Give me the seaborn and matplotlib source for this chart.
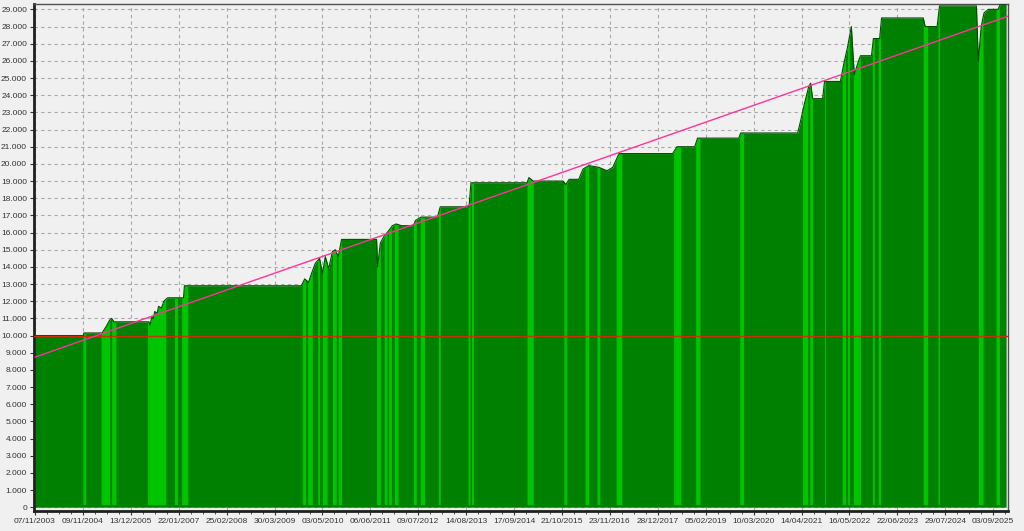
import numpy as np
import pandas as pd
import matplotlib
matplotlib.use("Agg")
import matplotlib.pyplot as plt
import seaborn as sns
from matplotlib.ticker import FuncFormatter, MultipleLocator

# Equity curve (x in tick units: one unit per date label)
eq_x = [0.0, 1.01, 1.02, 1.40, 1.48, 1.56, 1.60, 1.65, 2.38, 2.40, 2.44, 2.47, 2.50,
        2.55, 2.58, 2.64, 2.69, 2.77, 3.10, 3.12, 5.56, 5.63, 5.71, 5.77, 5.85, 5.94,
        6.00, 6.06, 6.13, 6.21, 6.27, 6.33, 6.40, 7.13, 7.15, 7.21, 7.29, 7.38, 7.46,
        7.54, 7.65, 7.90, 7.94, 8.06, 8.40, 8.46, 9.06, 9.10, 10.27, 10.31, 10.40,
        11.02, 11.08, 11.15, 11.35, 11.44, 11.56, 11.77, 11.94, 12.06, 12.19, 13.31,
        13.40, 13.77, 13.83, 14.69, 14.73, 15.92, 15.98, 16.06, 16.15, 16.19, 16.23,
        16.44, 16.48, 16.81, 16.88, 16.96, 17.04, 17.10, 17.19, 17.23, 17.46, 17.50,
        17.63, 17.67, 18.54, 18.58, 18.83, 18.88, 19.65, 19.69, 19.75, 19.81, 19.90,
        20.10, 20.15, 20.27]
eq_y = [10000, 10000, 10150, 10150, 10500, 10900, 11000, 10800, 10800, 10600, 11100,
        11000, 11400, 11300, 11700, 11600, 12000, 12200, 12200, 12900, 12900, 13300,
        13100, 13600, 14200, 14500, 13600, 14600, 13900, 14900, 15000, 14600, 15600,
        15600, 14000, 15400, 15800, 16100, 16400, 16500, 16400, 16400, 16700, 16900,
        16900, 17500, 17500, 18900, 18900, 19200, 19000, 19000, 18800, 19100, 19100,
        19700, 19900, 19800, 19600, 19800, 20600, 20600, 21000, 21000, 21500, 21500,
        21800, 21800, 22500, 23500, 24500, 24700, 23800, 23800, 24800, 24800, 25800,
        26800, 28000, 25200, 26000, 26300, 26300, 27300, 27300, 28500, 28500, 28000,
        28000, 29200, 29200, 26000, 28000, 28800, 29000, 29000, 29300, 29300]

# Periods shown as bright green bars (start, end)
band_start = [1.00, 1.38, 1.60, 2.35, 2.92, 3.06, 5.58, 5.69, 5.90, 6.00, 6.21, 6.33,
              7.13, 7.29, 7.38, 7.50, 7.90, 8.04, 8.42, 9.04, 9.13, 10.27, 11.04, 11.48,
              11.73, 12.13, 13.33, 13.79, 14.71, 16.02, 16.17, 16.48, 16.85, 16.96,
              17.08, 17.48, 17.60, 18.54, 18.85, 19.69, 20.06]
band_end = [1.06, 1.56, 1.69, 2.73, 2.98, 3.19, 5.65, 5.79, 5.94, 6.10, 6.29, 6.40,
            7.21, 7.35, 7.44, 7.58, 7.96, 8.13, 8.46, 9.08, 9.17, 10.40, 11.10, 11.56,
            11.79, 12.25, 13.48, 13.88, 14.79, 16.13, 16.23, 16.52, 16.92, 17.00,
            17.23, 17.52, 17.65, 18.63, 18.88, 19.79, 20.13]

date_labels = ["07/11/2003", "09/11/2004", "13/12/2005", "22/01/2007", "25/02/2008",
               "30/03/2009", "03/05/2010", "06/06/2011", "09/07/2012", "14/08/2013",
               "17/09/2014", "21/10/2015", "23/11/2016", "28/12/2017", "05/02/2019",
               "10/03/2020", "14/04/2021", "16/05/2022", "22/06/2023", "29/07/2024",
               "03/09/2025"]

trend_x = [0.0, 20.31]
trend_y = [8740, 28600]
initial_balance = 10000

sns.set_theme(style="white")
plt.rcParams['font.family'] = ['Liberation Sans', 'DejaVu Sans']

fig = plt.figure(figsize=(10.24, 5.31), dpi=100, facecolor="#f0f0f0")
ax = fig.add_axes([0.0332, 0.0377, 0.9512, 0.955])
ax.set_facecolor("#f0f0f0")

x = np.array(eq_x)
y = np.array(eq_y)

# Dark green equity area
ax.fill_between(x, 0, y, color="#008000", linewidth=0, zorder=2)

# Bright green bars following the curve
for a, b in zip(band_start, band_end):
    bx = np.linspace(a, b, 12)
    ax.fill_between(bx, 150, np.interp(bx, x, y), color="#00c400", linewidth=0, zorder=3)

# Curve outline
df = pd.DataFrame({"x": eq_x, "y": eq_y})
sns.lineplot(data=df, x="x", y="y", ax=ax, color="#004d00", linewidth=0.8,
             sort=False, zorder=4)

ax.axhline(initial_balance, color="#c83200", linewidth=1.0, zorder=5)
sns.lineplot(x=trend_x, y=trend_y, ax=ax, color="#ff3399", linewidth=1.0, zorder=6)

ax.set_xlim(-0.02, 20.31)
ax.set_ylim(-220, 29320)
ax.yaxis.set_major_locator(MultipleLocator(1000))
ax.yaxis.set_major_formatter(FuncFormatter(lambda v, p: f"{int(v):,}".replace(",", ".")))
ax.set_xticks(range(len(date_labels)))
ax.set_xticklabels(date_labels)
ax.xaxis.set_minor_locator(MultipleLocator(0.25))
ax.set_xlabel("")
ax.set_ylabel("")

ax.grid(True, which="major", color="#a8a8a8", linestyle=(0, (3, 3)), linewidth=0.8, zorder=1)
ax.set_axisbelow(True)
ax.tick_params(axis="both", which="major", labelsize=6, colors="#333333", length=3,
               width=0.8, pad=2, direction="out")
ax.tick_params(axis="x", which="minor", length=2, width=0.6, colors="#333333", direction="out")
ax.tick_params(left=True, bottom=True)
ax.tick_params(axis="x", which="minor", bottom=True)

for side in ["left", "bottom"]:
    ax.spines[side].set_color("#202020")
    ax.spines[side].set_linewidth(2)
for side in ["top", "right"]:
    ax.spines[side].set_color("#505050")
    ax.spines[side].set_linewidth(1)

fig.savefig("out.png", dpi=100, facecolor=fig.get_facecolor())
